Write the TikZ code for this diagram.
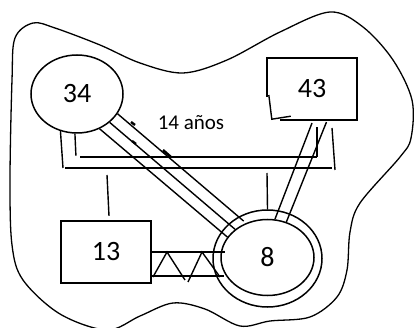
\documentclass[tikz,border=0pt]{standalone}
\usepackage{fontspec}
\setmainfont{Carlito}
\usetikzlibrary{shapes.geometric}
\tikzset{
  person/.style={draw, ellipse, line width=1.5pt, inner sep=0pt, font=\fontsize{28}{34}\selectfont},
  box/.style={rectangle, inner sep=0pt, minimum width=90pt, minimum height=62pt, font=\fontsize{28}{34}\selectfont},
  boxline/.style={line width=2.1pt},
  tie/.style={line width=1.4pt},
  bar/.style={line width=1.8pt},
}
\begin{document}
\begin{tikzpicture}[x=1pt,y=-1pt]
\useasboundingbox (0,0) rectangle (414,328);

% Outline of the family
\draw[line width=1.3pt] plot[smooth cycle, tension=0.55] coordinates {
  (12,80) (15,38) (33,23) (55,28) (100,45) (140,63) (183,73) (227,60)
  (280,32) (330,12) (363,27) (393,60) (412,100) (411,138) (400,157)
  (360,203) (350,232) (347,270) (337,297) (310,317) (270,321) (240,326)
  (205,309) (173,303) (140,316) (107,330) (60,314) (23,280) (12,245) (10,180)};

% People
\node[person, minimum width=92pt, minimum height=78pt] (p34) at (77,94) {34};
\node[box, draw, boxline] (p13) at (106,252) {13};
\node[box] (p43) at (312,89) {43};
\node[person, minimum width=93pt, minimum height=76pt] (p8) at (267.5,257.5) {8};
\node[person, minimum width=109pt, minimum height=97pt] (p8o) at (267.5,258.5) {};
\node[font=\fontsize{21}{25}\selectfont] (age) at (191,123) {14 años};

% Box 43 with broken left side
\draw[boxline] ([yshift=-8pt]p43.west) -- (p43.north west) -- (p43.north east)
  -- (p43.south east) -- ([xshift=13pt]p43.south west);
\draw[tie] ([shift={(2pt,-6pt)}]p43.west) -- ([shift={(5pt,1pt)}]p43.south west)
  -- ([shift={(24pt,4pt)}]p43.south west);

% Bars
\coordinate (barA1) at (80,157);
\coordinate (barA2) at (317,157);
\coordinate (barB1) at (65,168);
\coordinate (barB2) at (332,168);
\draw[bar] (barA1) -- (barA2); % upper bar
\draw[line width=2.8pt] (242,157) -- (270,157);
\draw[bar] (barB1) -- (barB2); % lower bar

% Uprights
\draw[tie] (p34.-114) -- ([xshift=-2pt]barB1);
\draw[tie] (p34.-93) -- ++(1,22);
\draw[tie] (barA2) -- ++(0,-30);
\draw[tie] (barB2) ++(3,2) -- ++(-3,-42);
\draw[tie] (107,175) -- ([shift={(3pt,4pt)}]p13.north);
\draw[tie] (267,173) -- (p8o.north);

% Ties 34 -- 8
\draw[tie, shorten >=3pt] (p34.-26) -- (p8.122);
\draw[tie] (p34.-41) -- (p8.139);
\draw[tie] (p34.-57) -- (p8.153);
\draw[line width=2.4pt] (131,122) -- (135,125);
\draw[line width=2.4pt] (132,141) -- (136,144);
\draw[line width=2.4pt] (163,150) -- (171,157);

% Ties 43 -- 8
\draw[tie, shorten <=3pt] (p43.-88) -- (p8.79);
\draw[tie, shorten <=2pt] (p43.-64) -- (p8.62);

% Conflict 13 -- 8
\draw[tie] (p13.east) -- ++(73,0);
\draw[tie] ([yshift=-24pt]p13.east) -- ++(72,0);
\draw[tie] (153,277) -- (167,252) -- (185,280);
\draw[tie] (188,282) -- (202,252) -- (220,277);

\end{tikzpicture}
\end{document}
